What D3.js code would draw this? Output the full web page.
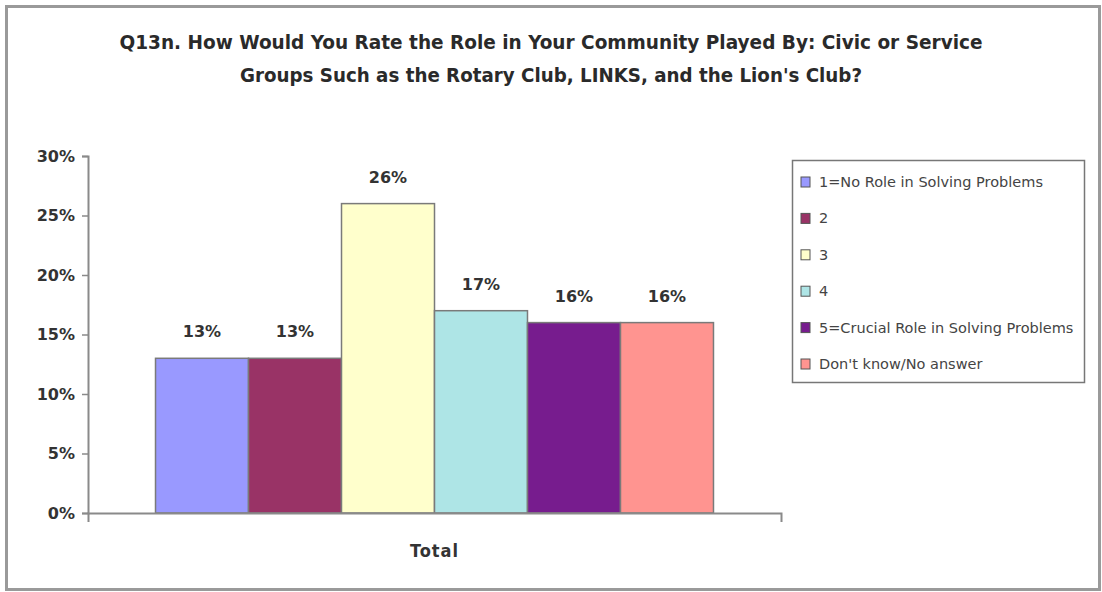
<!DOCTYPE html>
<html>
<head>
<meta charset="utf-8">
<script src="https://cdn.jsdelivr.net/npm/d3@7/dist/d3.min.js"></script>
<style>
  html, body { margin: 0; padding: 0; background: #fff; }
  svg { display: block; }
</style>
</head>
<body>
<svg id="chart" width="1102" height="592"></svg>
<script>
// Survey responses (share of respondents)
const groups = ["Total"];
const series = [
  "1=No Role in Solving Problems",
  "2",
  "3",
  "4",
  "5=Crucial Role in Solving Problems",
  "Don't know/No answer"
];
const values = [13, 13, 26, 17, 16, 16];
const colors = ["#9999ff", "#993366", "#ffffcc", "#aee5e6", "#771c8e", "#ff9490"];
const yTicks = [0, 5, 10, 15, 20, 25, 30];
const titleLines = [
  "Q13n. How Would You Rate the Role in Your Community Played By: Civic or Service",
  "Groups Such as the Rotary Club, LINKS, and the Lion's Club?"
];

const svg = d3.select("#chart");

// outer frame
svg.append("rect")
  .attr("x", 6.5).attr("y", 6.5)
  .attr("width", 1093).attr("height", 583)
  .attr("fill", "#fff")
  .attr("stroke", "#9a9a9a").attr("stroke-width", 3);

// title
svg.append("g").selectAll("text")
  .data(titleLines)
  .join("text")
  .attr("x", 551)
  .attr("y", (d, i) => 49 + i * 33)
  .attr("text-anchor", "middle")
  .attr("font-family", "'DejaVu Sans Condensed', 'DejaVu Sans', sans-serif")
  .attr("font-weight", "bold")
  .attr("font-size", 19)
  .attr("fill", "#2a2a2a")
  .attr("textLength", (d, i) => i === 0 ? 863 : 622)
  .attr("lengthAdjust", "spacingAndGlyphs")
  .text(d => d);

const plot = { left: 88, right: 781, top: 156, bottom: 513 };

const y = d3.scaleLinear().domain([0, 30]).range([plot.bottom, plot.top]);
const x0 = d3.scaleBand().domain(groups).range([plot.left, plot.right])
  .paddingInner(0).paddingOuter(0.121);
const x1 = d3.scaleBand().domain(series).range([0, x0.bandwidth()]).padding(0);

const numFont = "'DejaVu Sans', Verdana, sans-serif";

// y axis
const yAxis = d3.axisLeft(y).tickValues(yTicks).tickFormat(d => d + "%").tickSize(6).tickPadding(7);
const gy = svg.append("g").attr("transform", `translate(${plot.left},0)`).call(yAxis);
gy.select(".domain").attr("stroke", "#8a8a8a").attr("stroke-width", 2);
gy.selectAll(".tick line").attr("stroke", "#8a8a8a").attr("stroke-width", 1.5);
gy.selectAll(".tick text")
  .attr("font-family", numFont)
  .attr("font-weight", "bold")
  .attr("font-size", 16)
  .attr("fill", "#333");

// bars
const gBars = svg.append("g")
  .selectAll("g")
  .data(groups)
  .join("g")
  .attr("transform", d => `translate(${x0(d)},0)`);

gBars.selectAll("rect")
  .data(() => series.map((s, i) => ({ s, v: values[i], c: colors[i] })))
  .join("rect")
  .attr("x", d => x1(d.s))
  .attr("y", d => y(d.v))
  .attr("width", x1.bandwidth())
  .attr("height", d => y(0) - y(d.v))
  .attr("fill", d => d.c)
  .attr("stroke", "#7a7a7a")
  .attr("stroke-width", 1.5);

gBars.selectAll("text.val")
  .data(() => series.map((s, i) => ({ s, v: values[i] })))
  .join("text")
  .attr("class", "val")
  .attr("x", d => x1(d.s) + x1.bandwidth() / 2)
  .attr("y", d => y(d.v) - 21)
  .attr("text-anchor", "middle")
  .attr("font-family", numFont)
  .attr("font-weight", "bold")
  .attr("font-size", 16)
  .attr("fill", "#333")
  .text(d => d.v + "%");

// x axis
const xAxis = d3.axisBottom(x0).tickValues([]).tickSizeOuter(9);
const gx = svg.append("g").attr("transform", `translate(0,${plot.bottom})`).call(xAxis);
gx.select(".domain").attr("stroke", "#8a8a8a").attr("stroke-width", 2);

svg.append("text")
  .attr("x", x0("Total") + x0.bandwidth() / 2)
  .attr("y", 557)
  .attr("text-anchor", "middle")
  .attr("font-family", "'DejaVu Sans Condensed', 'DejaVu Sans', sans-serif")
  .attr("font-weight", "bold")
  .attr("font-size", 18)
  .attr("letter-spacing", 1)
  .attr("fill", "#333")
  .text(groups[0]);

// legend
const legend = svg.append("g");
legend.append("rect")
  .attr("x", 792.5).attr("y", 160.5)
  .attr("width", 292).attr("height", 222)
  .attr("fill", "#fff")
  .attr("stroke", "#777").attr("stroke-width", 1.5);

const items = legend.selectAll("g.item")
  .data(series)
  .join("g")
  .attr("class", "item")
  .attr("transform", (d, i) => `translate(801,${182 + i * 36.4})`);

items.append("rect")
  .attr("x", 0).attr("y", -5)
  .attr("width", 9).attr("height", 10)
  .attr("fill", (d, i) => colors[i])
  .attr("stroke", "#555").attr("stroke-width", 1);

items.append("text")
  .attr("x", 18)
  .attr("y", 5)
  .attr("font-family", "'DejaVu Sans', sans-serif")
  .attr("font-size", 14.5)
  .attr("fill", "#444")
  .text(d => d);
</script>
</body>
</html>
